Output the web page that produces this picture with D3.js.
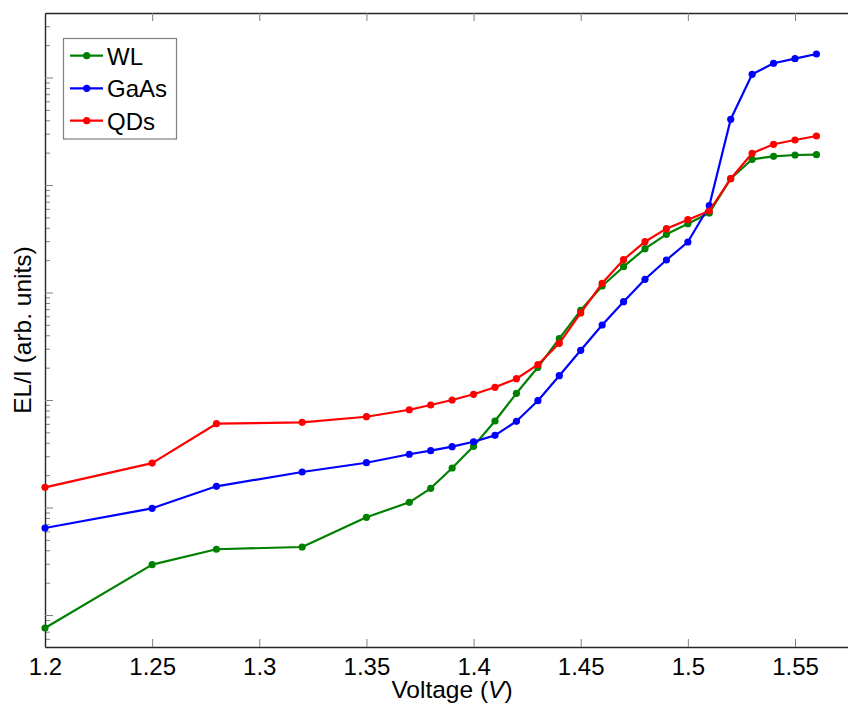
<!DOCTYPE html>
<html>
<head>
<meta charset="utf-8">
<script src="https://cdn.jsdelivr.net/npm/d3@7"></script>
<style>
  html, body { margin: 0; padding: 0; background: #fff; }
  svg { display: block; font-family: "Liberation Sans", Arial, Helvetica, sans-serif; }
</style>
</head>
<body>
<svg id="chart" width="848" height="704"></svg>
<script>
// ---- data ----
const voltage = [1.2, 1.25, 1.28, 1.32, 1.35, 1.37, 1.38, 1.39, 1.40, 1.41, 1.42, 1.43, 1.44,
                 1.45, 1.46, 1.47, 1.48, 1.49, 1.50, 1.51, 1.52, 1.53, 1.54, 1.55, 1.56];
const wl   = [0.757, 2.94, 4.09, 4.29, 8.11, 11.18, 15.09, 23.3, 37.1, 63.8, 115.4, 201.5, 371.7,
              683, 1149, 1738, 2555, 3478, 4365, 5489, 11450, 17340, 18490, 19010, 19140];
const gaas = [6.45, 9.83, 15.75, 21.4, 26.1, 31.3, 33.8, 36.8, 40.9, 46.9, 63.4, 98.5, 168.3,
              290, 498.6, 821, 1327, 2006, 2950, 6420, 40860, 107100, 135600, 149600, 165400];
const qds  = [15.41, 25.9, 60.2, 62.0, 69.9, 81.2, 89.8, 100, 113, 131.3, 157.8, 213, 337,
              645, 1218, 2019, 2969, 3923, 4756, 5730, 11450, 19720, 23910, 26220, 28570];
const seriesNames = ["WL", "GaAs", "QDs"];
const seriesColors = ["#008000", "#0000ff", "#ff0000"];
const xTicks = [1.2, 1.25, 1.3, 1.35, 1.4, 1.45, 1.5, 1.55];
const xTickLabels = ["1.2", "1.25", "1.3", "1.35", "1.4", "1.45", "1.5", "1.55"];
const yMajorTicks = [1, 10, 100, 1000, 10000, 100000];
const xLabel = "Voltage";
const xUnit = "V";
const yLabel = "EL/I (arb. units)";

(function () {
// ---- layout ----
const plotLeft = 45, plotTop = 13, plotBottom = 647;
const pxPerVolt = 750 / 0.35;
const xMaxDomain = 1.58;

const svg = d3.select("#chart");
const x = d3.scaleLinear().domain([1.2, xMaxDomain]).range([plotLeft, plotLeft + (xMaxDomain - 1.2) * pxPerVolt]);
const y = d3.scaleLog().domain([0.504, 3.98e5]).range([plotBottom, plotTop]);

// minor ticks
const yMinor = [];
for (let e = -1; e <= 5; e++) {
  for (let m = 2; m <= 9; m++) {
    const v = m * Math.pow(10, e);
    if (v >= y.domain()[0] && v <= y.domain()[1]) yMinor.push(v);
  }
}

const axisColor = "#262626";
const tickColor = "#808080";

const gx = svg.append("g").attr("transform", `translate(0,${plotBottom})`)
  .call(d3.axisBottom(x).tickValues(xTicks).tickFormat((d, i) => xTickLabels[i])
        .tickSizeInner(-8).tickSizeOuter(0).tickPadding(11));
const gxt = svg.append("g").attr("transform", `translate(0,${plotTop})`)
  .call(d3.axisTop(x).tickValues(xTicks).tickFormat("").tickSizeInner(-8).tickSizeOuter(0));
const gym = svg.append("g").attr("transform", `translate(${plotLeft},0)`)
  .call(d3.axisLeft(y).tickValues(yMinor).tickFormat("").tickSizeInner(-5).tickSizeOuter(0));
const gy = svg.append("g").attr("transform", `translate(${plotLeft},0)`)
  .call(d3.axisLeft(y).tickValues(yMajorTicks).tickFormat("").tickSizeInner(-8).tickSizeOuter(0));

[gx, gxt, gym, gy].forEach(g => {
  g.select(".domain").attr("stroke", axisColor).attr("stroke-width", 1.4);
  g.selectAll(".tick line").attr("stroke", tickColor).attr("stroke-width", 1);
  g.selectAll(".tick text").attr("fill", "#000").style("font-size", "24px")
    .style("font-family", '"Liberation Sans", Arial, sans-serif');
});
gym.select(".domain").remove();

const xl = svg.append("text").attr("x", 452).attr("y", 698).attr("text-anchor", "middle")
  .style("font-size", "24.5px").attr("fill", "#000");
xl.append("tspan").text(xLabel + " (");
xl.append("tspan").style("font-style", "italic").text(xUnit);
xl.append("tspan").text(")");

svg.append("text").attr("transform", "translate(31,330) rotate(-90)")
  .attr("text-anchor", "middle").style("font-size", "24.5px").attr("fill", "#000").text(yLabel);

const allSeries = [wl, gaas, qds];
const line = d3.line().x((d, i) => x(voltage[i])).y(d => y(d));
allSeries.forEach((vals, s) => {
  const g = svg.append("g");
  g.append("path").datum(vals).attr("d", line).attr("fill", "none")
    .attr("stroke", seriesColors[s]).attr("stroke-width", 2.2).attr("stroke-linejoin", "round");
  g.selectAll("circle").data(vals).enter().append("circle")
    .attr("cx", (d, i) => x(voltage[i])).attr("cy", d => y(d)).attr("r", 3.6)
    .attr("fill", seriesColors[s]);
});

const lg = svg.append("g");
lg.append("rect").attr("x", 63.5).attr("y", 38.5).attr("width", 113).attr("height", 100.5)
  .attr("fill", "#fff").attr("stroke", "#7f7f7f").attr("stroke-width", 1.2);
const rowY = [55.7, 88.3, 120.7];
seriesNames.forEach((name, i) => {
  lg.append("line").attr("x1", 70).attr("x2", 103).attr("y1", rowY[i]).attr("y2", rowY[i])
    .attr("stroke", seriesColors[i]).attr("stroke-width", 2.2);
  lg.append("circle").attr("cx", 86.7).attr("cy", rowY[i]).attr("r", 3.6).attr("fill", seriesColors[i]);
  lg.append("text").attr("x", 107).attr("y", rowY[i] + 8.8).style("font-size", "24px")
    .attr("fill", "#000").text(name);
});
})();
</script>
</body>
</html>
